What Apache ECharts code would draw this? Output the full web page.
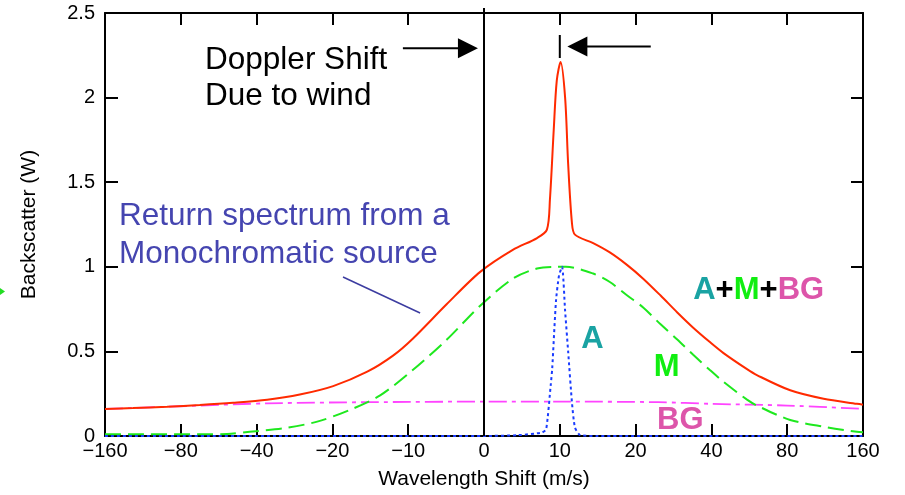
<!DOCTYPE html>
<html>
<head>
<meta charset="utf-8">
<script src="https://cdn.jsdelivr.net/npm/echarts@6/dist/echarts.min.js"></script>
<style>
html,body{margin:0;padding:0;background:#fff;}
#c{width:905px;height:495px;}
</style>
</head>
<body>
<div id="c"></div>
<script>
// ---- data (x is the tick-slot position on the axis: 0 -> "−160", 5 -> "0", 6 -> "10", 10 -> "160") ----
const xTickLabels = ['−160','−80','−40','−20','−10','0','10','20','40','80','160'];

const totalPos = [0, 0.37, 0.82, 1.25, 1.69, 2.14, 2.57, 3.01, 3.46, 3.80, 4.06, 4.51, 4.95, 5.38, 5.70, 5.83, 5.87, 5.92, 5.96, 6.01, 6.07, 6.11, 6.16, 6.20, 6.44, 6.66, 6.89, 7.10, 7.33, 7.55, 7.76, 7.98, 8.16, 8.47, 8.60, 9.04, 9.48, 9.92, 10];
const totalVal = [0.16, 0.165, 0.173, 0.183, 0.196, 0.214, 0.245, 0.295, 0.38, 0.475, 0.575, 0.78, 0.97, 1.10, 1.17, 1.22, 1.40, 1.81, 2.10, 2.21, 2.00, 1.61, 1.26, 1.19, 1.14, 1.085, 1.01, 0.93, 0.83, 0.73, 0.64, 0.555, 0.49, 0.395, 0.36, 0.27, 0.22, 0.19, 0.185];

const molPos = [0, 1.25, 1.61, 1.91, 2.35, 2.80, 3.23, 3.63, 4.06, 4.51, 4.95, 5.38, 5.70, 5.97, 6.08, 6.44, 6.66, 6.89, 7.10, 7.33, 7.55, 7.76, 7.98, 8.16, 8.47, 8.60, 9.04, 9.48, 9.92, 10];
const molVal = [0.01, 0.01, 0.012, 0.025, 0.045, 0.085, 0.154, 0.24, 0.39, 0.57, 0.77, 0.93, 0.99, 1.0, 1.0, 0.96, 0.91, 0.83, 0.76, 0.66, 0.57, 0.48, 0.39, 0.32, 0.215, 0.18, 0.095, 0.055, 0.025, 0.022];

const aerPos = [0, 5.0, 5.45, 5.76, 5.82, 5.88, 5.90, 5.95, 5.99, 6.03, 6.07, 6.11, 6.16, 6.20, 6.27, 6.5, 10];
const aerVal = [0, 0, 0.005, 0.02, 0.04, 0.3, 0.4, 0.8, 0.95, 1.0, 0.74, 0.5, 0.2, 0.05, 0.005, 0, 0];

const bgPos = [0, 1.25, 2.14, 3.5, 5, 6, 7.3, 8, 9, 10];
const bgVal = [0.16, 0.18, 0.193, 0.2, 0.203, 0.203, 0.2, 0.19, 0.18, 0.16];

const zeroShiftPos = 5;      // "0" m/s
const peakShiftPos = 6;      // "10" m/s

function zip(xs, ys){ return xs.map((x,i)=>[x, ys[i]]); }

const FONT = '"Liberation Sans", Arial, Helvetica, sans-serif';
const chart = echarts.init(document.getElementById('c'), null, {renderer:'canvas'});

const axisLineStyle = {color:'#000', width:2};
const option = {
  backgroundColor:'#fff',
  animation:false,
  grid:{left:105, right:42, top:13, bottom:59, containLabel:false, outerBoundsMode:'none'},
  xAxis:[
    {type:'value', min:0, max:10, interval:1, position:'bottom',
     axisLine:{show:true, onZero:false, lineStyle:axisLineStyle},
     axisTick:{show:true, inside:true, length:12, lineStyle:{color:'#000', width:2}},
     axisLabel:{show:true, showMinLabel:true, showMaxLabel:true, margin:5, color:'#000', fontSize:20, fontFamily:FONT,
       formatter:(v)=>xTickLabels[Math.round(v)]},
     splitLine:{show:false},
     name:'Wavelength Shift (m/s)', nameLocation:'middle', nameGap:33,
     nameTextStyle:{color:'#000', fontSize:21, fontFamily:FONT}},
    {type:'value', min:0, max:10, interval:1, position:'top',
     axisLine:{show:true, onZero:false, lineStyle:axisLineStyle},
     axisTick:{show:true, inside:true, length:12, lineStyle:{color:'#000', width:2}},
     axisLabel:{show:false}, splitLine:{show:false}}
  ],
  yAxis:[
    {type:'value', min:0, max:2.5, interval:0.5, position:'left',
     axisLine:{show:true, onZero:false, lineStyle:axisLineStyle},
     axisTick:{show:true, inside:true, length:13, lineStyle:{color:'#000', width:2}},
     axisLabel:{show:true, showMinLabel:true, showMaxLabel:true, margin:10, color:'#000', fontSize:20, fontFamily:FONT},
     splitLine:{show:false},
     name:'Backscatter (W)', nameLocation:'middle', nameGap:65,
     nameTextStyle:{color:'#000', fontSize:21, fontFamily:FONT}},
    {type:'value', min:0, max:2.5, interval:0.5, position:'right',
     axisLine:{show:true, onZero:false, lineStyle:axisLineStyle},
     axisTick:{show:true, inside:true, length:12, lineStyle:{color:'#000', width:2}},
     axisLabel:{show:false}, splitLine:{show:false}}
  ],
  series:[
    {name:'BG', type:'line', data:zip(bgPos,bgVal), showSymbol:false, smooth:0.3,
     lineStyle:{color:'#ff44ff', width:1.8, type:[18,5,4,5]}, z:3},
    {name:'M', type:'line', data:zip(molPos,molVal), showSymbol:false, smooth:0.3,
     lineStyle:{color:'#1ee81e', width:2, type:[16,7]}, z:4},
    {name:'A', type:'line', data:zip(aerPos,aerVal), showSymbol:false, smooth:0.2,
     lineStyle:{color:'#1a3cff', width:2, type:[3,3]}, z:5},
    {name:'A+M+BG', type:'line', data:zip(totalPos,totalVal), showSymbol:false, smooth:0.3,
     lineStyle:{color:'#ff2a00', width:2}, z:6}
  ]
};
chart.setOption(option);

function pt(x,y){ return chart.convertToPixel({seriesIndex:0},[x,y]); }

function arrow(tailX, tipX, y){
  const a = pt(tailX,y), b = pt(tipX,y);
  const d = b[0] > a[0] ? 1 : -1;
  return [
    {type:'line', shape:{x1:a[0], y1:a[1], x2:b[0]-d*18, y2:b[1]}, style:{stroke:'#000', lineWidth:2}, z:60},
    {type:'polygon', shape:{points:[[b[0],b[1]],[b[0]-d*20,b[1]-10],[b[0]-d*20,b[1]+10]]}, style:{fill:'#000'}, z:60}
  ];
}

function txt(x, y, text, fill, font, align){
  const p = pt(x,y);
  return {type:'text', x:p[0], y:p[1], z:70,
    style:{text:text, fill:fill, font:font, align:align||'left', verticalAlign:'middle'}};
}

const z0 = pt(zeroShiftPos, 2.53), z1 = pt(zeroShiftPos, 0);
const m0 = pt(peakShiftPos, 2.37), m1 = pt(peakShiftPos, 2.234);
const pl0 = pt(3.14, 0.940), pl1 = pt(4.157, 0.727);
const amb = pt(7.76, 0.863);

const graphics = [
  {type:'line', shape:{x1:z0[0], y1:z0[1], x2:z1[0], y2:z1[1]}, style:{stroke:'#000', lineWidth:2}, z:50},
  {type:'line', shape:{x1:m0[0], y1:m0[1], x2:m1[0], y2:m1[1]}, style:{stroke:'#000', lineWidth:2}, z:50},
  ...arrow(3.93, 4.92, 2.291),
  ...arrow(7.20, 6.10, 2.302),
  txt(1.32, 2.222, 'Doppler Shift', '#000', '31.5px '+FONT),
  txt(1.32, 2.005, 'Due to wind', '#000', '31.5px '+FONT),
  txt(0.185, 1.300, 'Return spectrum from a', '#4545b0', '31.5px '+FONT),
  txt(0.185, 1.076, 'Monochromatic source', '#4545b0', '31.5px '+FONT),
  {type:'line', shape:{x1:pl0[0], y1:pl0[1], x2:pl1[0], y2:pl1[1]}, style:{stroke:'#3c3ca0', lineWidth:1.5}, z:50},
  txt(6.43, 0.570, 'A', '#1aa3a3', 'bold 31px '+FONT, 'center'),
  txt(7.41, 0.408, 'M', '#11ee11', 'bold 31px '+FONT, 'center'),
  txt(7.59, 0.089, 'BG', '#dd55aa', 'bold 31px '+FONT, 'center'),
  {type:'text', x:amb[0], y:amb[1], z:70,
   style:{text:'{a|A}{p|+}{m|M}{p|+}{b|BG}', verticalAlign:'middle', align:'left',
     rich:{
       a:{fill:'#1aa3a3', font:'bold 31px '+FONT},
       p:{fill:'#000', font:'bold 31px '+FONT},
       m:{fill:'#11ee11', font:'bold 31px '+FONT},
       b:{fill:'#dd55aa', font:'bold 31px '+FONT}
     }}},
  {type:'polygon', shape:{points:[[0,288],[5,291.5],[0,295]]}, style:{fill:'#22dd22'}, z:70}
];
chart.setOption({graphic:graphics});
</script>
</body>
</html>
